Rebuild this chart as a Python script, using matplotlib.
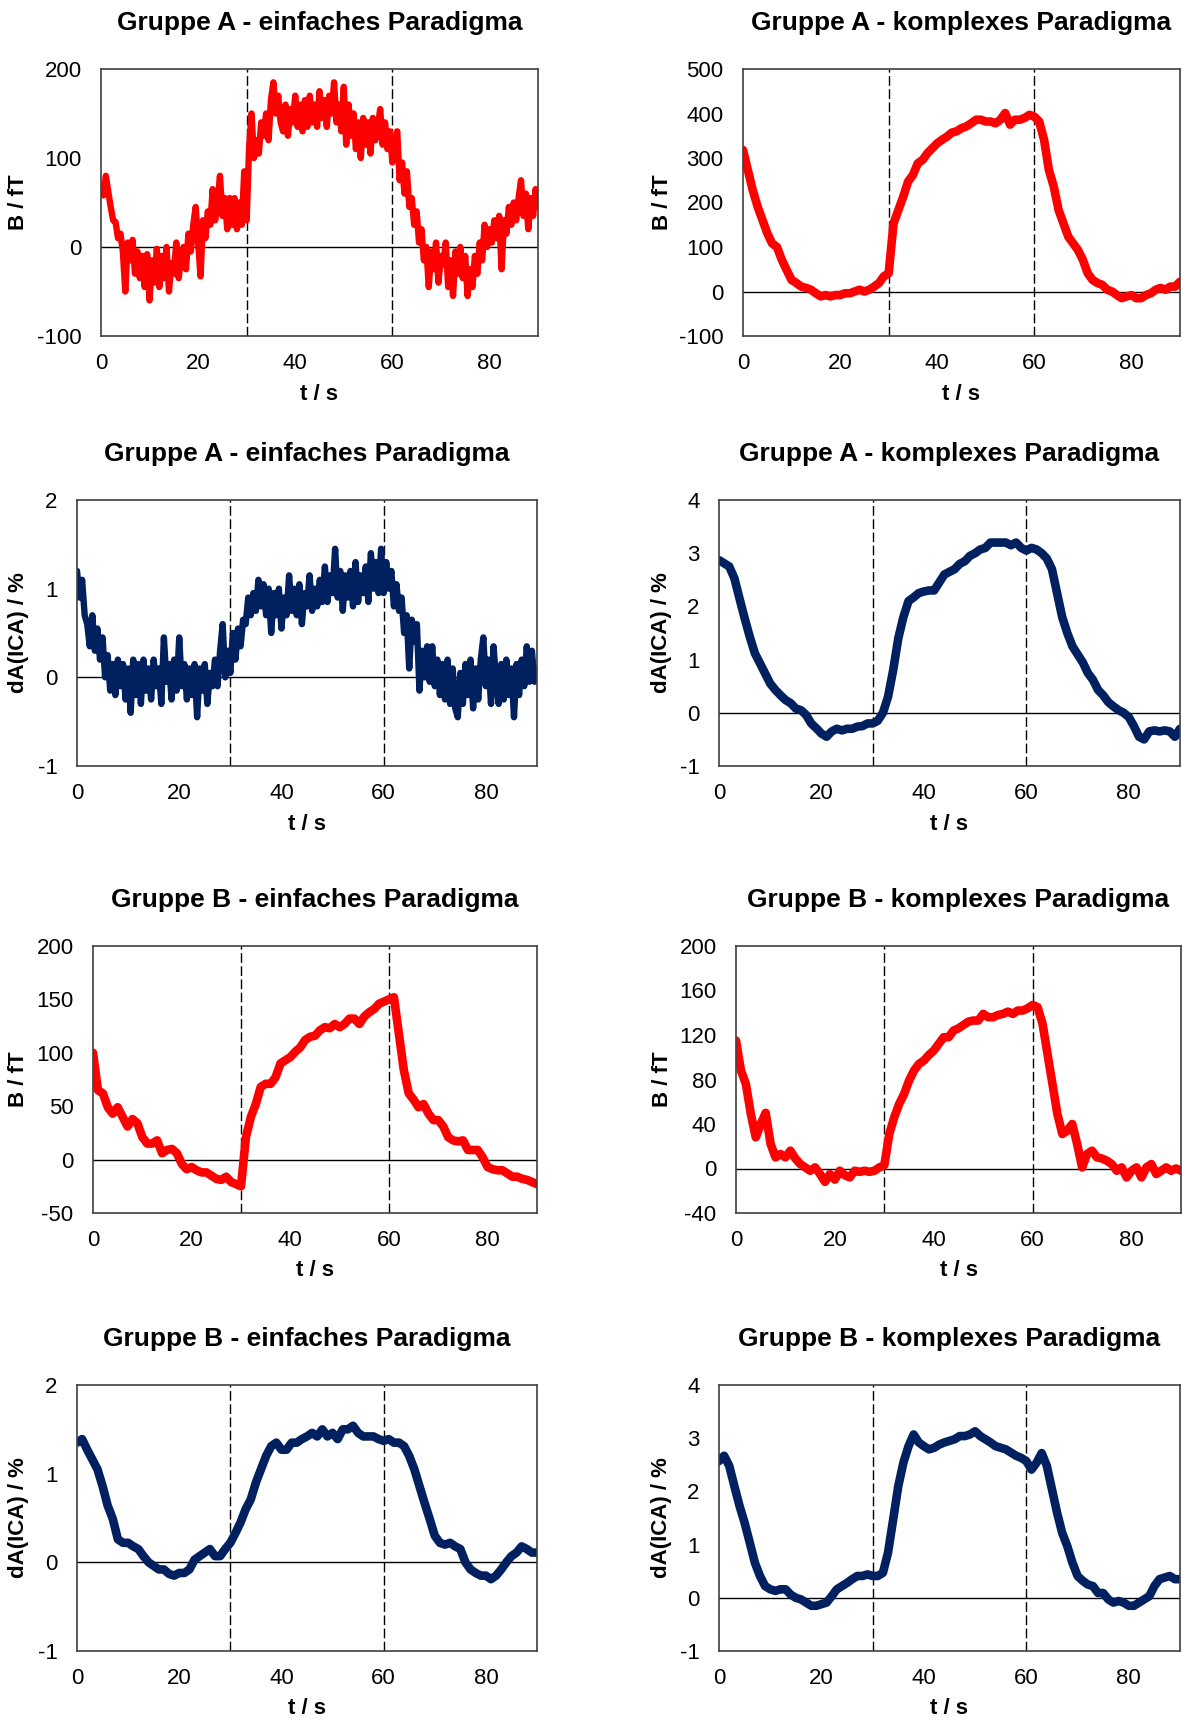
"""Block-design time courses (B / fT and dA(ICA) / %) for groups A and B,
simple and complex paradigm, 4x2 grid in Excel style."""

import matplotlib.pyplot as plt
import numpy as np

plt.rcParams["font.family"] = ["Liberation Sans", "DejaVu Sans"]
plt.rcParams["axes.unicode_minus"] = False

W, H = 1183, 1721
RED = "#FF0000"
NAVY = "#002060"

# sample times (s)
t_half = np.arange(0, 90.25, 0.5)
t_full = np.arange(0, 91, 1)

# Gruppe A - einfaches Paradigma, B / fT (0.5 s steps)
a_easy_b = [
    70, 58, 80, 62, 45, 30, 28, 10, 15, -5,
    -50, 5, -15, 8, -30, -5, -35, -10, -45, -8,
    -60, -15, -40, -2, -45, -10, -35, 0, -50, -18,
    -30, 5, -35, -10, 0, -25, 15, -5, 25, 45,
    5, -33, 30, 10, 40, 25, 65, 30, 50, 80,
    35, 55, 20, 55, 25, 55, 20, 50, 25, 85,
    30, 112, 150, 100, 120, 105, 140, 125, 150, 120,
    165, 185, 150, 170, 140, 130, 160, 125, 155, 140,
    170, 135, 160, 130, 165, 135, 170, 140, 160, 135,
    175, 145, 165, 135, 170, 150, 185, 140, 160, 130,
    180, 115, 160, 125, 150, 110, 140, 100, 145, 115,
    140, 105, 145, 120, 135, 155, 115, 140, 110, 130,
    95, 110, 130, 75, 95, 60, 85, 45, 55, 25,
    40, 5, 20, -15, 0, -45, -5, -25, 5, -40,
    -10, -20, 5, -45, -15, -55, -5, -30, 0, -35,
    -10, -55, -25, -45, -10, -30, 5, -15, 25, 0,
    20, 5, 30, 10, 35, -25, 30, 15, 45, 25,
    50, 30, 55, 75, 35, 60, 20, 55, 35, 65,
    45,
]

# Gruppe A - komplexes Paradigma, B / fT (1 s steps)
a_cplx_b = [
    318, 273, 228, 191, 161, 131, 108, 100, 71, 48,
    26, 19, 11, 8, 4, -4, -11, -8, -11, -8,
    -8, -4, -4, 0, 4, 0, 4, 11, 19, 34,
    41, 153, 183, 213, 247, 262, 288, 296, 311, 322,
    333, 341, 348, 357, 360, 367, 371, 378, 386, 386,
    382, 382, 378, 386, 401, 375, 386, 386, 390, 397,
    393, 382, 341, 273, 236, 183, 153, 123, 108, 93,
    71, 41, 26, 19, 15, 4, 0, -8, -15, -11,
    -8, -15, -15, -8, -4, 4, 8, 4, 11, 11,
    22,
]

# Gruppe A - einfaches Paradigma, dA(ICA) / % (0.5 s steps)
a_easy_da = [
    1.2, 0.9, 1.1, 0.7, 0.6, 0.35, 0.7, 0.3, 0.55, 0.2,
    0.45, 0.0, 0.25, -0.15, 0.15, -0.2, 0.2, -0.1, 0.15, -0.25,
    0.1, -0.4, 0.2, -0.2, 0.15, -0.3, 0.2, -0.15, 0.1, -0.25,
    0.2, -0.1, 0.1, -0.3, 0.45, -0.05, 0.15, -0.25, 0.2, -0.15,
    0.45, -0.1, 0.15, -0.25, 0.1, -0.2, 0.15, -0.45, 0.1, -0.15,
    0.15, -0.3, 0.05, -0.1, 0.2, -0.1, 0.3, 0.6, 0.0, 0.3,
    0.05, 0.5, 0.2, 0.55, 0.35, 0.65, 0.6, 0.9, 0.7, 0.95,
    0.75, 1.1, 0.8, 1.05, 0.7, 1.0, 0.5, 0.95, 0.7, 1.0,
    0.55, 0.9, 0.7, 1.15, 0.75, 1.0, 0.7, 1.05, 0.6, 0.95,
    0.8, 1.15, 0.75, 1.0, 0.8, 1.1, 0.85, 1.25, 0.85, 1.15,
    0.95, 1.45, 0.9, 1.2, 0.75, 1.15, 0.9, 1.2, 0.8, 1.3,
    0.85, 1.15, 0.95, 1.25, 0.85, 1.4, 1.0, 1.3, 0.95, 1.45,
    0.95, 1.3, 1.0, 1.2, 0.8, 1.05, 0.75, 0.9, 0.5, 0.7,
    0.1, 0.65, 0.4, 0.6, -0.15, 0.3, 0.0, 0.35, -0.05, 0.35,
    -0.1, 0.2, -0.2, 0.15, -0.25, 0.2, -0.3, 0.1, -0.35, -0.45,
    0.05, -0.3, 0.15, -0.2, 0.2, -0.35, 0.1, -0.25, 0.2, 0.45,
    -0.1, 0.2, -0.3, 0.35, -0.05, -0.3, 0.15, -0.25, 0.2, -0.2,
    0.1, -0.45, 0.15, -0.2, 0.2, -0.1, 0.35, -0.05, 0.3, -0.05,
    0.1,
]

# Gruppe A - komplexes Paradigma, dA(ICA) / %
a_cplx_da = [
    2.87, 2.81, 2.75, 2.53, 2.15, 1.78, 1.43, 1.12, 0.93, 0.74,
    0.55, 0.43, 0.33, 0.24, 0.18, 0.08, 0.05, -0.04, -0.2, -0.29,
    -0.39, -0.45, -0.35, -0.3, -0.33, -0.3, -0.3, -0.26, -0.25, -0.2,
    -0.2, -0.15, 0.0, 0.3, 0.8, 1.4, 1.8, 2.1, 2.17, 2.25,
    2.28, 2.3, 2.3, 2.45, 2.6, 2.65, 2.7, 2.8, 2.85, 2.95,
    3.0, 3.07, 3.1, 3.2, 3.2, 3.2, 3.2, 3.15, 3.2, 3.1,
    3.05, 3.1, 3.07, 3.0, 2.9, 2.7, 2.25, 1.8, 1.5, 1.25,
    1.1, 0.95, 0.75, 0.62, 0.43, 0.33, 0.2, 0.12, 0.05, 0.0,
    -0.08, -0.25, -0.45, -0.5, -0.35, -0.33, -0.35, -0.33, -0.35, -0.45,
    -0.3,
]

# Gruppe B - einfaches Paradigma, B / fT
b_easy_b = [
    100, 65, 62, 49, 43, 49, 40, 31, 38, 34,
    21, 15, 15, 18, 6, 9, 10, 6, -4, -9,
    -7, -10, -12, -12, -15, -18, -19, -16, -21, -23,
    -25, 21, 40, 52, 68, 71, 71, 77, 90, 93,
    96, 101, 105, 112, 115, 116, 121, 124, 123, 127,
    124, 127, 132, 132, 127, 134, 138, 141, 146, 148,
    150, 152, 118, 84, 62, 56, 49, 52, 43, 37,
    37, 31, 21, 18, 17, 18, 9, 9, 9, 2,
    -7, -9, -10, -10, -13, -16, -16, -18, -19, -21,
    -23,
]

# Gruppe B - komplexes Paradigma, B / fT
b_cplx_b = [
    115, 88, 76, 49, 28, 40, 50, 22, 10, 13,
    10, 16, 9, 4, 1, -2, 1, -5, -12, -5,
    -10, -2, -6, -8, -2, -3, -2, -3, -2, 1,
    3, 31, 46, 58, 67, 79, 88, 94, 97, 102,
    106, 112, 118, 118, 124, 126, 129, 132, 133, 133,
    139, 136, 136, 138, 139, 141, 139, 142, 142, 144,
    147, 145, 130, 103, 76, 49, 31, 34, 40, 22,
    1, 13, 16, 10, 9, 7, 4, -2, 1, -8,
    -2, 1, -8, 1, 4, -5, -2, 1, -2, 0,
    -2,
]

# Gruppe B - einfaches Paradigma, dA(ICA) / %
b_easy_da = [
    1.35, 1.39, 1.27, 1.16, 1.05, 0.86, 0.64, 0.49, 0.26, 0.22,
    0.22, 0.18, 0.15, 0.07, 0.0, -0.04, -0.08, -0.08, -0.13, -0.15,
    -0.12, -0.12, -0.08, 0.03, 0.07, 0.11, 0.15, 0.07, 0.07, 0.15,
    0.22, 0.33, 0.45, 0.6, 0.71, 0.9, 1.05, 1.2, 1.31, 1.35,
    1.27, 1.27, 1.35, 1.35, 1.39, 1.42, 1.46, 1.42, 1.5, 1.42,
    1.46, 1.39, 1.5, 1.5, 1.54, 1.46, 1.42, 1.42, 1.42, 1.39,
    1.37, 1.39, 1.35, 1.35, 1.31, 1.2, 1.05, 0.86, 0.67, 0.49,
    0.3, 0.22, 0.2, 0.22, 0.18, 0.15, 0.0, -0.08, -0.12, -0.15,
    -0.15, -0.19, -0.15, -0.08, 0.0, 0.07, 0.11, 0.18, 0.15, 0.11,
    0.11,
]

# Gruppe B - komplexes Paradigma, dA(ICA) / %
b_cplx_da = [
    2.57, 2.67, 2.48, 2.1, 1.73, 1.41, 1.04, 0.66, 0.41, 0.22,
    0.16, 0.13, 0.16, 0.16, 0.06, 0.0, -0.03, -0.09, -0.15, -0.15,
    -0.12, -0.09, 0.03, 0.16, 0.22, 0.28, 0.35, 0.41, 0.41, 0.44,
    0.41, 0.41, 0.47, 0.85, 1.47, 2.1, 2.54, 2.85, 3.07, 2.92,
    2.85, 2.79, 2.82, 2.88, 2.92, 2.95, 2.98, 3.04, 3.04, 3.07,
    3.13, 3.04, 2.98, 2.92, 2.85, 2.82, 2.79, 2.73, 2.67, 2.63,
    2.57, 2.41, 2.54, 2.72, 2.48, 2.04, 1.6, 1.22, 0.97, 0.66,
    0.41, 0.32, 0.25, 0.22, 0.09, 0.09, -0.03, -0.09, -0.06, -0.09,
    -0.15, -0.15, -0.09, -0.03, 0.03, 0.22, 0.35, 0.38, 0.41, 0.35,
    0.35,
]

TITLE_A_EASY = "Gruppe A - einfaches Paradigma"
TITLE_A_CPLX = "Gruppe A - komplexes Paradigma"
TITLE_B_EASY = "Gruppe B - einfaches Paradigma"
TITLE_B_CPLX = "Gruppe B - komplexes Paradigma"
YLAB_B = "B / fT"
YLAB_DA = "dA(ICA) / %"
XLAB = "t / s"
X_TICKS = [0, 20, 40, 60, 80]
BLOCK_EDGES = [30, 60]

# (title, ylabel, t, y, color, ylim, yticks, axes box in px: left, right, top, bottom, ylabel x px)
panels = [
    (TITLE_A_EASY, YLAB_B, t_half, a_easy_b, RED, (-100, 200), [-100, 0, 100, 200], (101, 538, 69, 336), 19),
    (TITLE_A_CPLX, YLAB_B, t_full, a_cplx_b, RED, (-100, 500), list(range(-100, 501, 100)), (743, 1180, 69, 336), 662),
    (TITLE_A_EASY, YLAB_DA, t_half, a_easy_da, NAVY, (-1, 2), [-1, 0, 1, 2], (77, 537, 500, 766), 19),
    (TITLE_A_CPLX, YLAB_DA, t_full, a_cplx_da, NAVY, (-1, 4), [-1, 0, 1, 2, 3, 4], (719, 1180, 500, 766), 662),
    (TITLE_B_EASY, YLAB_B, t_full, b_easy_b, RED, (-50, 200), list(range(-50, 201, 50)), (93, 537, 946, 1213), 19),
    (TITLE_B_CPLX, YLAB_B, t_full, b_cplx_b, RED, (-40, 200), list(range(-40, 201, 40)), (736, 1181, 946, 1213), 662),
    (TITLE_B_EASY, YLAB_DA, t_full, b_easy_da, NAVY, (-1, 2), [-1, 0, 1, 2], (77, 537, 1385, 1651), 19),
    (TITLE_B_CPLX, YLAB_DA, t_full, b_cplx_da, NAVY, (-1, 4), [-1, 0, 1, 2, 3, 4], (719, 1180, 1385, 1651), 662),
]

fig = plt.figure(figsize=(W / 100, H / 100), dpi=100)

for title, ylab, t, y, color, ylim, yticks, box, ylab_x in panels:
    left, right, top, bottom = box
    hpx = bottom - top
    ax = fig.add_axes([left / W, 1 - bottom / H, (right - left) / W, hpx / H])

    ax.axhline(0, color="black", lw=1.0, zorder=1)
    for edge in BLOCK_EDGES:
        ax.axvline(edge, color="black", lw=1.0, ls=(0, (7, 2.5)), zorder=1)
    lw = 4.6 if len(t) > 100 else 6.2
    ax.plot(t, y, color=color, lw=lw, solid_joinstyle="round",
            solid_capstyle="round", zorder=2)

    ax.set_xlim(0, 90)
    ax.set_ylim(*ylim)
    ax.set_xticks(X_TICKS)
    ax.set_yticks(yticks)
    ax.tick_params(length=0, labelsize=16)
    ax.tick_params(axis="y", pad=14)
    ax.tick_params(axis="x", pad=12)
    for sp in ax.spines.values():
        sp.set_color("#404040")
        sp.set_linewidth(1.2)

    ax.text(0.5, 1 + 46 / hpx, title, transform=ax.transAxes, ha="center",
            va="center", fontsize=19, fontweight="bold")
    ax.set_xlabel(XLAB, fontsize=16, fontweight="bold", va="center")
    ax.xaxis.set_label_coords(0.5, -58 / hpx)
    ax.set_ylabel(ylab, fontsize=16, fontweight="bold", va="center")
    ax.yaxis.set_label_coords(ylab_x / W, 1 - (top + bottom) / 2 / H,
                              transform=fig.transFigure)

fig.savefig("out.png", dpi=100)
